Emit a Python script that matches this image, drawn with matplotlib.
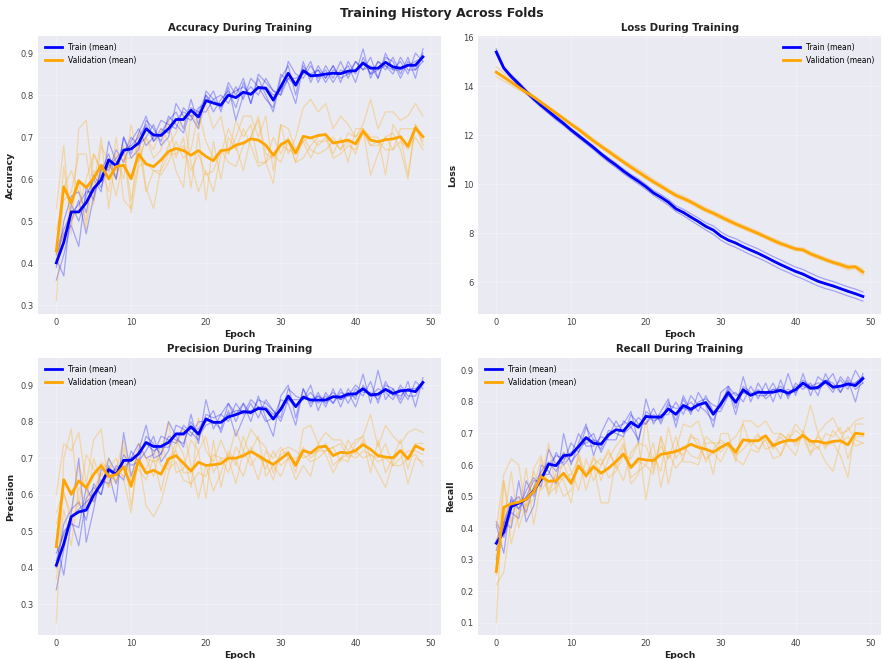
import matplotlib
matplotlib.use("Agg")
import matplotlib.pyplot as plt
import numpy as np

epochs = np.arange(50)

# ---- accuracy ----
acc_train_mean = [0.401, 0.450, 0.522, 0.522, 0.544, 0.578, 0.598, 0.646, 0.632, 0.669,
                  0.672, 0.686, 0.720, 0.705, 0.704, 0.720, 0.742, 0.742, 0.764, 0.748,
                  0.787, 0.781, 0.776, 0.800, 0.794, 0.807, 0.802, 0.818, 0.816, 0.788,
                  0.820, 0.852, 0.824, 0.858, 0.846, 0.847, 0.850, 0.852, 0.851, 0.857,
                  0.858, 0.876, 0.864, 0.864, 0.878, 0.867, 0.864, 0.871, 0.871, 0.891]
acc_val_mean = [0.429, 0.582, 0.543, 0.596, 0.580, 0.602, 0.633, 0.601, 0.630, 0.633,
                0.601, 0.660, 0.636, 0.630, 0.646, 0.666, 0.673, 0.668, 0.657, 0.668,
                0.654, 0.644, 0.668, 0.670, 0.681, 0.686, 0.696, 0.693, 0.681, 0.657,
                0.682, 0.692, 0.662, 0.702, 0.698, 0.704, 0.706, 0.686, 0.689, 0.693,
                0.684, 0.714, 0.693, 0.689, 0.694, 0.696, 0.701, 0.678, 0.722, 0.701]
# per-fold curves, in percent
acc_train_folds = [
    [36, 42, 50, 55, 47, 56, 62, 66, 60, 70, 66, 71, 75, 69, 71, 74, 76, 72, 79, 73, 80, 76, 79, 81, 77,
     83, 78, 84, 80, 76, 84, 87, 80, 88, 83, 87, 84, 87, 83, 88, 85, 91, 84, 88, 86, 89, 85, 89, 84, 91],
    [41, 37, 54, 50, 56, 60, 57, 69, 64, 66, 70, 68, 70, 73, 68, 70, 78, 75, 74, 77, 78, 81, 76, 82, 74,
     80, 82, 80, 84, 81, 80, 84, 84, 85, 88, 83, 87, 84, 88, 84, 88, 86, 89, 84, 90, 86, 88, 85, 90, 88],
    [42, 47, 49, 44, 58, 55, 63, 62, 67, 64, 69, 72, 68, 70, 74, 73, 72, 77, 75, 72, 81, 79, 80, 78, 82,
     79, 84, 82, 79, 77, 85, 83, 78, 87, 84, 86, 83, 86, 85, 87, 83, 89, 85, 88, 87, 85, 89, 86, 86, 90],
    [39, 50, 56, 57, 52, 61, 58, 64, 60, 70, 65, 67, 74, 72, 69, 75, 73, 71, 77, 76, 76, 79, 77, 83, 80,
     84, 78, 85, 83, 81, 80, 88, 85, 84, 87, 84, 86, 83, 86, 85, 88, 86, 87, 84, 89, 88, 84, 88, 86, 88],
    [43, 48, 52, 54, 57, 57, 61, 63, 65, 67, 68, 70, 73, 69, 72, 71, 74, 76, 75, 76, 80, 78, 78, 80, 81,
     82, 80, 82, 82, 80, 81, 84, 82, 86, 85, 86, 84, 87, 84, 85, 86, 88, 85, 86, 87, 86, 86, 87, 88, 89],
]
acc_val_folds = [
    [53, 68, 47, 72, 74, 58, 70, 53, 66, 60, 73, 64, 70, 67, 72, 69, 62, 58, 76, 72, 78, 72, 75, 66, 70,
     75, 75, 70, 75, 62, 73, 66, 70, 77, 79, 76, 78, 72, 75, 73, 70, 73, 79, 72, 76, 76, 74, 75, 78, 75],
    [31, 58, 62, 57, 50, 66, 62, 57, 70, 55, 53, 71, 58, 53, 63, 68, 71, 75, 64, 57, 62, 57, 66, 72, 68,
     62, 70, 74, 64, 66, 64, 69, 64, 65, 68, 70, 71, 66, 70, 64, 72, 72, 70, 70, 61, 73, 70, 61, 73, 70],
    [48, 55, 57, 66, 66, 54, 68, 64, 60, 68, 55, 64, 70, 65, 67, 74, 65, 70, 58, 71, 55, 69, 60, 70, 67,
     72, 68, 63, 64, 70, 66, 70, 64, 70, 67, 66, 67, 69, 67, 71, 70, 72, 61, 66, 70, 71, 67, 60, 73, 68],
    [42, 63, 50, 53, 60, 66, 62, 63, 56, 65, 65, 68, 57, 62, 61, 64, 69, 65, 67, 76, 69, 65, 67, 66, 74,
     70, 73, 64, 64, 59, 73, 72, 67, 69, 70, 68, 70, 65, 66, 68, 67, 71, 68, 68, 70, 67, 72, 72, 72, 69],
    [41, 47, 54, 60, 48, 62, 60, 63, 62, 67, 52, 63, 64, 62, 62, 66, 66, 68, 62, 66, 61, 62, 67, 64, 63,
     68, 70, 75, 66, 65, 68, 67, 66, 69, 65, 69, 69, 70, 67, 69, 66, 72, 68, 69, 67, 67, 69, 67, 70, 67],
]

# ---- loss ----
loss_train_mean = [15.40, 14.75, 14.40, 14.10, 13.78, 13.49, 13.22, 12.97, 12.72, 12.48,
                   12.22, 11.98, 11.74, 11.50, 11.24, 11.00, 10.78, 10.54, 10.32, 10.12,
                   9.90, 9.65, 9.47, 9.27, 9.00, 8.85, 8.66, 8.48, 8.28, 8.13,
                   7.89, 7.72, 7.60, 7.45, 7.31, 7.18, 7.03, 6.87, 6.72, 6.58,
                   6.44, 6.33, 6.18, 6.04, 5.94, 5.85, 5.74, 5.63, 5.53, 5.42]
loss_val_mean = [14.58, 14.38, 14.17, 13.96, 13.76, 13.56, 13.34, 13.12, 12.90, 12.68,
                 12.45, 12.24, 12.00, 11.77, 11.55, 11.34, 11.12, 10.91, 10.70, 10.50,
                 10.30, 10.10, 9.92, 9.73, 9.55, 9.42, 9.28, 9.11, 8.95, 8.82,
                 8.67, 8.52, 8.38, 8.25, 8.12, 7.99, 7.85, 7.71, 7.58, 7.47,
                 7.36, 7.32, 7.16, 7.04, 6.92, 6.81, 6.72, 6.61, 6.63, 6.42]
loss_train_folds = [
    [15.53, 14.80, 14.47, 14.18, 13.86, 13.55, 13.30, 13.02, 12.80, 12.55, 12.27, 12.05, 11.80, 11.57, 11.30,
     11.08, 10.86, 10.62, 10.40, 10.22, 9.99, 9.75, 9.58, 9.38, 9.12, 8.98, 8.80, 8.62, 8.43, 8.30,
     8.06, 7.88, 7.78, 7.62, 7.49, 7.36, 7.20, 7.05, 6.91, 6.76, 6.62, 6.52, 6.37, 6.23, 6.12,
     6.03, 5.92, 5.81, 5.72, 5.60],
    [15.33, 14.68, 14.33, 14.02, 13.70, 13.41, 13.14, 12.88, 12.62, 12.40, 12.14, 11.89, 11.66, 11.41, 11.15,
     10.90, 10.68, 10.44, 10.22, 10.01, 9.79, 9.55, 9.35, 9.15, 8.89, 8.72, 8.52, 8.33, 8.13, 7.96,
     7.72, 7.55, 7.42, 7.27, 7.12, 6.99, 6.85, 6.69, 6.53, 6.40, 6.25, 6.13, 5.99, 5.85, 5.74,
     5.66, 5.55, 5.44, 5.34, 5.23],
    [15.42, 14.78, 14.38, 14.14, 13.76, 13.52, 13.20, 12.99, 12.68, 12.50, 12.20, 12.01, 11.72, 11.53, 11.22,
     11.03, 10.76, 10.57, 10.30, 10.15, 9.88, 9.68, 9.45, 9.30, 8.98, 8.88, 8.64, 8.51, 8.26, 8.16,
     7.87, 7.75, 7.58, 7.48, 7.29, 7.21, 7.01, 6.90, 6.70, 6.61, 6.42, 6.36, 6.16, 6.07, 5.92,
     5.88, 5.72, 5.66, 5.51, 5.45],
    [15.37, 14.72, 14.44, 14.07, 13.81, 13.46, 13.25, 12.94, 12.77, 12.45, 12.25, 11.95, 11.77, 11.47, 11.27,
     10.97, 10.81, 10.51, 10.35, 10.09, 9.93, 9.62, 9.50, 9.24, 9.03, 8.82, 8.69, 8.45, 8.31, 8.10,
     7.92, 7.69, 7.63, 7.42, 7.34, 7.15, 7.06, 6.84, 6.75, 6.55, 6.47, 6.30, 6.21, 6.01, 5.97,
     5.82, 5.77, 5.60, 5.56, 5.39],
    [15.40, 14.77, 14.39, 14.09, 13.77, 13.50, 13.21, 12.98, 12.73, 12.49, 12.23, 11.99, 11.75, 11.51, 11.25,
     11.01, 10.79, 10.55, 10.33, 10.13, 9.91, 9.66, 9.48, 9.28, 9.01, 8.86, 8.67, 8.49, 8.29, 8.14,
     7.90, 7.73, 7.61, 7.46, 7.32, 7.19, 7.04, 6.88, 6.73, 6.59, 6.45, 6.34, 6.19, 6.05, 5.95,
     5.86, 5.75, 5.64, 5.54, 5.43],
]
loss_val_folds = [
    [14.80, 14.55, 14.30, 14.05, 13.84, 13.62, 13.40, 13.18, 12.96, 12.74, 12.52, 12.32, 12.10, 11.85, 11.63,
     11.42, 11.22, 11.00, 10.80, 10.62, 10.42, 10.20, 10.02, 9.82, 9.64, 9.52, 9.36, 9.20, 9.04, 8.90,
     8.76, 8.62, 8.46, 8.33, 8.20, 8.08, 7.93, 7.80, 7.66, 7.55, 7.43, 7.40, 7.24, 7.12, 7.00,
     6.89, 6.80, 6.70, 6.68, 6.55],
    [14.40, 14.22, 14.03, 13.85, 13.67, 13.48, 13.28, 13.05, 12.84, 12.62, 12.39, 12.18, 11.92, 11.70, 11.48,
     11.27, 11.05, 10.84, 10.62, 10.42, 10.21, 10.02, 9.84, 9.66, 9.47, 9.33, 9.20, 9.03, 8.87, 8.74,
     8.58, 8.44, 8.30, 8.17, 8.04, 7.92, 7.78, 7.63, 7.50, 7.40, 7.29, 7.25, 7.08, 6.96, 6.85,
     6.74, 6.64, 6.50, 6.55, 6.28],
    [14.62, 14.40, 14.20, 13.99, 13.79, 13.58, 13.37, 13.14, 12.93, 12.71, 12.47, 12.26, 12.02, 11.79, 11.57,
     11.36, 11.14, 10.93, 10.72, 10.52, 10.32, 10.12, 9.94, 9.75, 9.57, 9.44, 9.30, 9.13, 8.97, 8.84,
     8.69, 8.54, 8.40, 8.27, 8.14, 8.01, 7.87, 7.73, 7.60, 7.49, 7.38, 7.34, 7.18, 7.06, 6.94,
     6.83, 6.74, 6.63, 6.65, 6.44],
    [14.52, 14.33, 14.12, 13.92, 13.72, 13.53, 13.30, 13.09, 12.86, 12.65, 12.43, 12.21, 11.97, 11.75, 11.52,
     11.31, 11.09, 10.88, 10.67, 10.46, 10.27, 10.07, 9.89, 9.70, 9.52, 9.39, 9.25, 9.08, 8.92, 8.79,
     8.64, 8.49, 8.35, 8.22, 8.09, 7.96, 7.82, 7.68, 7.55, 7.44, 7.33, 7.29, 7.13, 7.01, 6.89,
     6.78, 6.69, 6.58, 6.62, 6.38],
    [14.56, 14.40, 14.20, 13.99, 13.78, 13.57, 13.35, 13.14, 12.91, 12.69, 12.44, 12.23, 11.99, 11.76, 11.55,
     11.34, 11.10, 10.90, 10.69, 10.48, 10.28, 10.09, 9.91, 9.72, 9.55, 9.42, 9.29, 9.11, 8.95, 8.83,
     8.68, 8.51, 8.39, 8.26, 8.13, 7.98, 7.85, 7.71, 7.59, 7.47, 7.37, 7.32, 7.17, 7.05, 6.92,
     6.81, 6.74, 6.64, 6.65, 6.45],
]

# ---- precision ----
prec_train_mean = [0.407, 0.466, 0.540, 0.553, 0.558, 0.599, 0.630, 0.669, 0.656, 0.694,
                   0.694, 0.712, 0.743, 0.732, 0.732, 0.743, 0.766, 0.766, 0.786, 0.766,
                   0.807, 0.798, 0.798, 0.813, 0.819, 0.827, 0.825, 0.836, 0.834, 0.807,
                   0.834, 0.870, 0.841, 0.867, 0.859, 0.859, 0.859, 0.868, 0.867, 0.875,
                   0.876, 0.890, 0.873, 0.875, 0.888, 0.877, 0.884, 0.886, 0.882, 0.907]
prec_val_mean = [0.458, 0.641, 0.601, 0.638, 0.619, 0.656, 0.680, 0.650, 0.655, 0.676,
                 0.623, 0.695, 0.659, 0.667, 0.656, 0.698, 0.707, 0.686, 0.665, 0.689,
                 0.680, 0.682, 0.685, 0.700, 0.700, 0.707, 0.718, 0.707, 0.694, 0.683,
                 0.698, 0.714, 0.680, 0.721, 0.714, 0.730, 0.733, 0.707, 0.716, 0.714,
                 0.721, 0.737, 0.724, 0.707, 0.703, 0.701, 0.721, 0.698, 0.734, 0.724]
prec_train_folds = [
    [34, 45, 55, 70, 47, 56, 67, 66, 58, 77, 65, 72, 79, 70, 71, 80, 76, 73, 82, 74, 86, 78, 82, 85, 80,
     85, 80, 87, 81, 76, 87, 90, 81, 89, 84, 88, 84, 89, 84, 89, 86, 93, 85, 94, 86, 89, 86, 91, 84, 92],
    [47, 38, 53, 46, 59, 62, 60, 70, 66, 64, 72, 69, 72, 76, 69, 72, 79, 78, 76, 80, 80, 83, 77, 83, 76,
     81, 85, 81, 86, 83, 80, 86, 86, 86, 90, 83, 88, 85, 89, 85, 89, 87, 91, 85, 91, 87, 89, 86, 91, 89],
    [42, 50, 52, 51, 62, 58, 64, 63, 68, 67, 70, 74, 70, 71, 76, 75, 74, 79, 77, 75, 82, 81, 82, 80, 85,
     82, 86, 84, 80, 81, 86, 85, 79, 89, 85, 87, 85, 87, 86, 88, 84, 90, 87, 89, 88, 86, 90, 87, 87, 91],
    [40, 52, 56, 58, 53, 63, 60, 68, 63, 71, 68, 69, 76, 74, 71, 76, 75, 74, 80, 76, 79, 80, 78, 85, 82,
     85, 82, 86, 85, 83, 81, 89, 87, 86, 88, 85, 87, 85, 88, 87, 90, 88, 88, 86, 90, 89, 85, 89, 88, 90],
    [44, 49, 54, 56, 58, 60, 63, 66, 67, 69, 70, 71, 74, 72, 73, 73, 77, 77, 78, 78, 81, 80, 80, 82, 83,
     83, 83, 84, 84, 82, 83, 86, 84, 87, 86, 87, 86, 88, 86, 87, 87, 89, 87, 87, 89, 88, 87, 89, 89, 91],
]
prec_val_folds = [
    [60, 74, 72, 77, 63, 75, 78, 62, 67, 75, 63, 74, 70, 65, 74, 68, 75, 71, 62, 81, 72, 69, 75, 70, 78,
     72, 78, 75, 73, 66, 71, 72, 66, 78, 79, 74, 77, 75, 75, 72, 75, 76, 82, 73, 79, 76, 74, 77, 78, 77],
    [25, 70, 78, 57, 71, 67, 65, 70, 63, 73, 57, 70, 57, 54, 58, 66, 73, 78, 68, 59, 68, 61, 66, 72, 69,
     65, 72, 76, 65, 68, 65, 70, 64, 68, 65, 74, 71, 66, 70, 69, 74, 76, 70, 66, 62, 69, 72, 63, 70, 69],
    [52, 60, 55, 68, 61, 58, 69, 67, 70, 64, 55, 72, 70, 69, 70, 80, 66, 67, 75, 72, 59, 75, 62, 71, 68,
     76, 70, 64, 72, 70, 73, 70, 69, 73, 70, 72, 72, 73, 69, 75, 71, 75, 66, 75, 66, 70, 75, 67, 74, 74],
    [37, 56, 46, 62, 58, 70, 63, 65, 64, 68, 66, 67, 64, 70, 61, 70, 72, 66, 66, 72, 76, 66, 70, 66, 73,
     70, 73, 70, 69, 64, 72, 73, 72, 70, 71, 72, 74, 68, 70, 71, 70, 72, 71, 70, 74, 68, 70, 72, 72, 71],
    [55, 61, 52, 58, 57, 61, 66, 62, 67, 65, 70, 68, 67, 72, 68, 67, 69, 64, 63, 66, 65, 71, 70, 70, 63,
     72, 68, 71, 67, 72, 68, 70, 70, 71, 69, 70, 72, 73, 74, 70, 72, 70, 71, 69, 70, 68, 68, 70, 71, 68],
]

# ---- recall ----
rec_train_mean = [0.352, 0.387, 0.468, 0.479, 0.492, 0.518, 0.555, 0.603, 0.598, 0.630,
                  0.632, 0.659, 0.687, 0.669, 0.666, 0.696, 0.712, 0.708, 0.736, 0.720,
                  0.754, 0.752, 0.752, 0.778, 0.761, 0.789, 0.777, 0.791, 0.798, 0.761,
                  0.793, 0.830, 0.799, 0.839, 0.821, 0.831, 0.830, 0.831, 0.837, 0.828,
                  0.839, 0.860, 0.844, 0.846, 0.865, 0.847, 0.850, 0.857, 0.852, 0.874]
rec_val_mean = [0.262, 0.466, 0.477, 0.482, 0.492, 0.516, 0.563, 0.548, 0.550, 0.574,
                0.542, 0.597, 0.566, 0.595, 0.574, 0.590, 0.611, 0.635, 0.592, 0.620,
                0.616, 0.614, 0.634, 0.638, 0.643, 0.653, 0.666, 0.656, 0.650, 0.641,
                0.656, 0.669, 0.640, 0.680, 0.677, 0.677, 0.693, 0.661, 0.672, 0.678,
                0.678, 0.694, 0.675, 0.675, 0.669, 0.675, 0.677, 0.664, 0.701, 0.698]
rec_train_folds = [
    [30, 42, 40, 55, 42, 47, 60, 58, 54, 70, 60, 67, 73, 63, 70, 75, 72, 73, 77, 67, 81, 73, 77, 81, 72,
     81, 76, 83, 79, 72, 83, 85, 78, 88, 80, 86, 82, 86, 81, 89, 82, 89, 82, 88, 86, 89, 83, 87, 80, 89],
    [41, 32, 50, 46, 52, 56, 53, 65, 60, 61, 67, 64, 68, 70, 64, 69, 74, 70, 72, 75, 73, 78, 73, 79, 78,
     78, 80, 77, 82, 77, 77, 82, 83, 80, 85, 81, 86, 80, 87, 81, 86, 84, 86, 82, 89, 84, 87, 84, 90, 86],
    [42, 37, 45, 43, 55, 50, 57, 57, 64, 60, 63, 70, 66, 66, 69, 68, 68, 74, 72, 68, 77, 75, 76, 76, 80,
     76, 82, 79, 77, 74, 80, 84, 76, 85, 83, 82, 82, 84, 84, 82, 84, 87, 85, 86, 86, 83, 88, 85, 86, 88],
    [33, 41, 48, 50, 45, 53, 58, 61, 58, 64, 61, 64, 72, 68, 65, 71, 70, 69, 76, 73, 73, 76, 74, 80, 74,
     82, 77, 80, 81, 79, 78, 85, 82, 83, 82, 84, 81, 83, 85, 82, 85, 85, 84, 85, 87, 86, 83, 88, 84, 86],
    [36, 42, 49, 46, 50, 55, 55, 60, 63, 62, 64, 66, 67, 68, 67, 69, 71, 71, 73, 72, 76, 74, 75, 78, 76,
     78, 77, 79, 80, 76, 79, 82, 80, 83, 82, 83, 83, 84, 83, 84, 83, 86, 84, 84, 86, 85, 85, 86, 86, 88],
]
rec_val_folds = [
    [40, 57, 62, 60, 44, 59, 63, 52, 57, 55, 48, 63, 52, 60, 48, 48, 62, 67, 54, 57, 75, 58, 69, 54, 65,
     73, 72, 74, 66, 57, 70, 70, 61, 74, 74, 72, 74, 70, 70, 68, 73, 70, 79, 70, 73, 75, 70, 71, 74, 75],
    [10, 55, 35, 45, 59, 41, 55, 67, 51, 64, 58, 52, 62, 55, 60, 64, 60, 55, 64, 67, 49, 63, 58, 72, 62,
     66, 63, 62, 69, 67, 64, 67, 69, 73, 66, 69, 69, 65, 69, 66, 63, 71, 66, 69, 66, 67, 63, 56, 73, 73],
    [25, 42, 58, 40, 48, 58, 52, 55, 56, 50, 52, 64, 56, 63, 55, 62, 66, 69, 56, 58, 60, 67, 53, 64, 59,
     62, 70, 66, 62, 64, 61, 66, 63, 65, 68, 65, 68, 62, 63, 70, 66, 70, 64, 66, 61, 58, 67, 69, 66, 67],
    [22, 26, 43, 50, 47, 53, 62, 50, 58, 60, 55, 59, 58, 60, 62, 56, 58, 63, 62, 67, 66, 60, 66, 62, 65,
     63, 69, 68, 61, 65, 68, 66, 65, 68, 67, 70, 65, 66, 70, 68, 67, 69, 68, 65, 70, 69, 72, 62, 69, 69],
    [31, 55, 42, 45, 47, 49, 58, 51, 53, 56, 57, 62, 56, 62, 60, 65, 59, 66, 59, 61, 60, 57, 69, 62, 69,
     61, 61, 60, 67, 67, 67, 66, 62, 60, 65, 64, 69, 67, 63, 68, 71, 69, 63, 70, 65, 71, 68, 72, 68, 67],
]

plt.rcParams['axes.facecolor'] = '#EAEAF2'
plt.rcParams['axes.edgecolor'] = 'white'
plt.rcParams['grid.color'] = 'white'
plt.rcParams['xtick.color'] = '#444444'
plt.rcParams['ytick.color'] = '#444444'
plt.rcParams['xtick.labelsize'] = 6
plt.rcParams['ytick.labelsize'] = 6
plt.rcParams['xtick.major.size'] = 0
plt.rcParams['ytick.major.size'] = 0


def draw_metric(ax, title, ylabel, train_folds, val_folds, train_mean, val_mean,
                scale=1.0, loc='upper left'):
    for fold in train_folds:
        ax.plot(epochs, np.array(fold) * scale, color='blue', alpha=0.3, linewidth=0.9)
    for fold in val_folds:
        ax.plot(epochs, np.array(fold) * scale, color='orange', alpha=0.3, linewidth=0.9)
    ax.plot(epochs, train_mean, color='blue', linewidth=2.0, label='Train (mean)')
    ax.plot(epochs, val_mean, color='orange', linewidth=2.0, label='Validation (mean)')
    ax.set_title(title, fontsize=7.3, fontweight='bold', color='#222222', pad=4)
    ax.set_xlabel('Epoch', fontsize=6.7, fontweight='bold', color='#222222', labelpad=2)
    ax.set_ylabel(ylabel, fontsize=6.7, fontweight='bold', color='#222222', labelpad=4)
    ax.grid(True, alpha=0.25, linewidth=0.8)
    for s in ax.spines.values():
        s.set_visible(False)
    ax.tick_params(pad=3)
    ax.legend(loc=loc, fontsize=5.5, frameon=False, handlelength=2.2)


fig, axes = plt.subplots(2, 2, figsize=(8.83, 6.59), dpi=100)
fig.subplots_adjust(left=0.043, right=0.998, top=0.945, bottom=0.036, wspace=0.091, hspace=0.159)
fig.suptitle('Training History Across Folds', fontsize=9, fontweight='bold', color='#222222', y=0.99)

draw_metric(axes[0, 0], 'Accuracy During Training', 'Accuracy',
            acc_train_folds, acc_val_folds, acc_train_mean, acc_val_mean, scale=0.01)
draw_metric(axes[0, 1], 'Loss During Training', 'Loss',
            loss_train_folds, loss_val_folds, loss_train_mean, loss_val_mean, loc='upper right')
draw_metric(axes[1, 0], 'Precision During Training', 'Precision',
            prec_train_folds, prec_val_folds, prec_train_mean, prec_val_mean, scale=0.01)
draw_metric(axes[1, 1], 'Recall During Training', 'Recall',
            rec_train_folds, rec_val_folds, rec_train_mean, rec_val_mean, scale=0.01)

fig.savefig('out.png', dpi=100)
